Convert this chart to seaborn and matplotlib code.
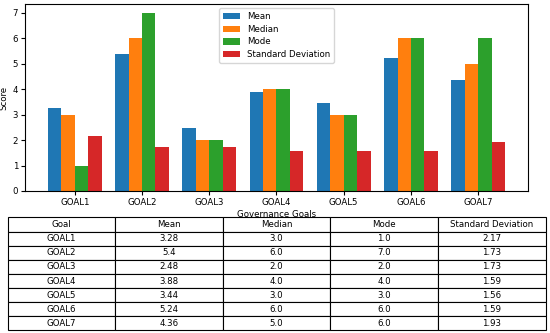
import matplotlib
matplotlib.use("Agg")
import matplotlib.pyplot as plt
import seaborn as sns
import pandas as pd

goals = ["GOAL1", "GOAL2", "GOAL3", "GOAL4", "GOAL5", "GOAL6", "GOAL7"]
mean_vals = [3.28, 5.4, 2.48, 3.88, 3.44, 5.24, 4.36]
median_vals = [3.0, 6.0, 2.0, 4.0, 3.0, 6.0, 5.0]
mode_vals = [1.0, 7.0, 2.0, 4.0, 3.0, 6.0, 6.0]
std_vals = [2.17, 1.73, 1.73, 1.59, 1.56, 1.59, 1.93]
series_names = ["Mean", "Median", "Mode", "Standard Deviation"]
col_labels = ["Goal", "Mean", "Median", "Mode", "Standard Deviation"]

series = [mean_vals, median_vals, mode_vals, std_vals]
rows = []
for name, vals in zip(series_names, series):
    for g, v in zip(goals, vals):
        rows.append({"Goal": g, "Statistic": name, "Score": v})
df = pd.DataFrame(rows)

plt.rcParams["font.family"] = ["DejaVu Sans"]
fs = 6.2

fig = plt.figure(figsize=(5.5, 3.33), dpi=100)
ax = fig.add_axes([25 / 550, 1 - 191 / 333, (528 - 25) / 550, (191 - 4) / 333])

palette = ["#1f77b4", "#ff7f0e", "#2ca02c", "#d62728"]
sns.barplot(data=df, x="Goal", y="Score", hue="Statistic", order=goals,
            hue_order=series_names, palette=palette, saturation=1,
            width=0.8, ax=ax, errorbar=None)

ax.set_ylabel("Score", fontsize=fs, labelpad=3)
ax.set_xlabel("Governance Goals", fontsize=fs, labelpad=2)
ax.tick_params(axis="both", labelsize=fs, length=3, pad=2)
ax.set_xlim(-0.74, 6.74)
ax.set_ylim(0, 7.35)
leg = ax.legend(loc="upper center", fontsize=fs, title=None, frameon=True,
                borderpad=0.4, labelspacing=0.45)

cell_text = []
for i, g in enumerate(goals):
    cell_text.append([g, f"{mean_vals[i]}", f"{median_vals[i]}",
                      f"{mode_vals[i]}", f"{std_vals[i]}"])

ax_h = (191 - 4)
ax_w = (528 - 25)
left = (7.5 - 25) / ax_w
width = (545.5 - 7.5) / ax_w
top = (191 - 217.5) / ax_h
bottom = (191 - 330.5) / ax_h
tbl = ax.table(cellText=cell_text, colLabels=col_labels, cellLoc="center",
               bbox=[left, bottom, width, top - bottom])
tbl.auto_set_font_size(False)
tbl.set_fontsize(fs)
for cell in tbl.get_celld().values():
    cell.set_edgecolor("black")
    cell.set_linewidth(0.8)

fig.savefig("out.png", dpi=100)
